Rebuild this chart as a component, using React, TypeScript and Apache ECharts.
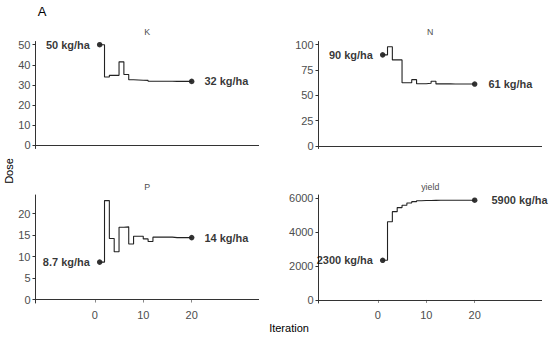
import React, { useEffect, useRef } from "react";
import * as echarts from "echarts";

const iterations = [1, 2, 3, 4, 5, 6, 7, 8, 9, 10, 11, 12, 13, 14, 15, 16, 17, 18, 19, 20];
const kDose = [50, 34, 34.8, 34.8, 41.5, 35.2, 32.6, 32.5, 32.4, 32.3, 31.9, 31.9, 31.9, 31.9, 31.9, 31.8, 31.8, 31.8, 31.8, 31.8];
const nDose = [90, 98, 85, 85, 62.5, 62.5, 65.5, 61.5, 61.5, 62, 64, 61.3, 61.3, 61.3, 61.2, 61.2, 61.2, 61.2, 61.2, 61.2];
const pDose = [8.7, 23, 14.2, 11.1, 16.8, 16.9, 12.9, 14.7, 14.7, 14.1, 13.5, 14.5, 14.5, 14.5, 14.5, 14.4, 14.4, 14.4, 14.4, 14.4];
const yieldVals = [2330, 4600, 5190, 5430, 5570, 5700, 5780, 5830, 5845, 5850, 5855, 5858, 5860, 5860, 5862, 5862, 5864, 5864, 5865, 5865];

const panelNames = ["K", "N", "P", "yield"];
const startLabels = ["50 kg/ha", "90 kg/ha", "8.7 kg/ha", "2300 kg/ha"];
const endLabels = ["32 kg/ha", "61 kg/ha", "14 kg/ha", "5900 kg/ha"];
const yTicks = [
  [0, 10, 20, 30, 40, 50],
  [0, 25, 50, 75, 100],
  [0, 5, 10, 15, 20],
  [0, 2000, 4000, 6000],
];
const xTicks = [0, 10, 20];

const FONT = "Liberation Sans, Arial, Helvetica, sans-serif";

export default function App() {
  const ref = useRef<HTMLDivElement>(null);
  useEffect(() => {
    if (!ref.current) return;
    const chart = echarts.init(ref.current, null, { renderer: "svg" });
    const series = [kDose, nDose, pDose, yieldVals];
    const grids = [
      { left: 35.5, top: 41.5, width: 223.5, height: 107 },
      { left: 318.5, top: 41.5, width: 223.5, height: 107 },
      { left: 35.5, top: 195, width: 223.5, height: 108 },
      { left: 318.5, top: 195, width: 223.5, height: 108 },
    ];
    const yRanges = [
      [-1.5, 51.6],
      [-2.5, 103.2],
      [-0.8, 24.3],
      [-180, 6170],
    ];
    const endDist = [10, 11, 10, 14];
    const option: any = {
      animation: false,
      grid: grids,
      xAxis: grids.map((_, i) => ({
        type: "value",
        gridIndex: i,
        min: -12.25,
        max: 33.9,
        axisLine: { show: false },
        splitLine: { show: false },
        axisTick: {
          show: i >= 2,
          customValues: xTicks,
          length: 3,
          lineStyle: { color: "#888", width: 1 },
        },
        axisLabel: {
          show: i >= 2,
          customValues: xTicks,
          color: "#4d4d4d",
          fontSize: 11,
          fontFamily: FONT,
          margin: 6,
          formatter: (v: number) => String(v),
        },
      })),
      yAxis: grids.map((_, i) => ({
        type: "value",
        gridIndex: i,
        min: yRanges[i][0],
        max: yRanges[i][1],
        splitLine: { show: false },
        axisLine: { show: true, onZero: false, lineStyle: { color: "#333", width: 1 } },
        axisTick: {
          show: true,
          customValues: yTicks[i],
          length: 3,
          lineStyle: { color: "#333", width: 1 },
        },
        axisLabel: {
          customValues: yTicks[i],
          color: "#4d4d4d",
          fontSize: 11,
          fontFamily: FONT,
          margin: 5,
          formatter: (v: number) => String(v),
        },
      })),
      series: [
        ...series.map((vals, i) => ({
          type: "line",
          xAxisIndex: i,
          yAxisIndex: i,
          step: "end",
          symbol: "none",
          data: iterations.map((it, j) => [it, vals[j]]),
          lineStyle: { color: "#222", width: 1.1 },
          markLine: {
            silent: true,
            symbol: ["none", "none"],
            label: { show: false },
            lineStyle: { color: "#333", width: 1, type: "solid" },
            data: [{ yAxis: 0 }],
          },
        })),
        ...series.map((vals, i) => ({
          type: "scatter",
          xAxisIndex: i,
          yAxisIndex: i,
          symbol: "circle",
          symbolSize: 5.5,
          itemStyle: { color: "#000" },
          label: {
            show: true,
            color: "#000",
            fontSize: 11,
            fontWeight: "bold",
            fontFamily: FONT,
          },
          data: [
            {
              value: [iterations[0], vals[0]],
              label: { position: "left", distance: 7, formatter: startLabels[i] },
            },
            {
              value: [iterations[iterations.length - 1], vals[vals.length - 1]],
              label: { position: "right", distance: endDist[i], formatter: endLabels[i] },
            },
          ],
        })),
      ],
      graphic: [
        {
          type: "text",
          x: 42,
          y: 11,
          style: { text: "A", fontSize: 13, fill: "#000", fontFamily: FONT, align: "center", verticalAlign: "middle" },
        },
        {
          type: "text",
          x: 9,
          y: 171,
          rotation: Math.PI / 2,
          style: { text: "Dose", fontSize: 11, fill: "#000", fontFamily: FONT, align: "center", verticalAlign: "middle" },
        },
        {
          type: "text",
          x: 289,
          y: 328,
          style: { text: "Iteration", fontSize: 11, fill: "#000", fontFamily: FONT, align: "center", verticalAlign: "middle" },
        },
        ...panelNames.map((name, i) => ({
          type: "text",
          x: grids[i].left + grids[i].width / 2,
          y: i < 2 ? 32 : 187,
          style: { text: name, fontSize: 8.8, fill: "#4d4d4d", fontFamily: FONT, align: "center", verticalAlign: "middle" },
        })),
      ],
    };
    chart.setOption(option);
    return () => chart.dispose();
  }, []);
  return (
    <div
      ref={ref}
      style={{ position: "fixed", left: 0, top: 0, width: 550, height: 340, background: "#fff" }}
    />
  );
}
